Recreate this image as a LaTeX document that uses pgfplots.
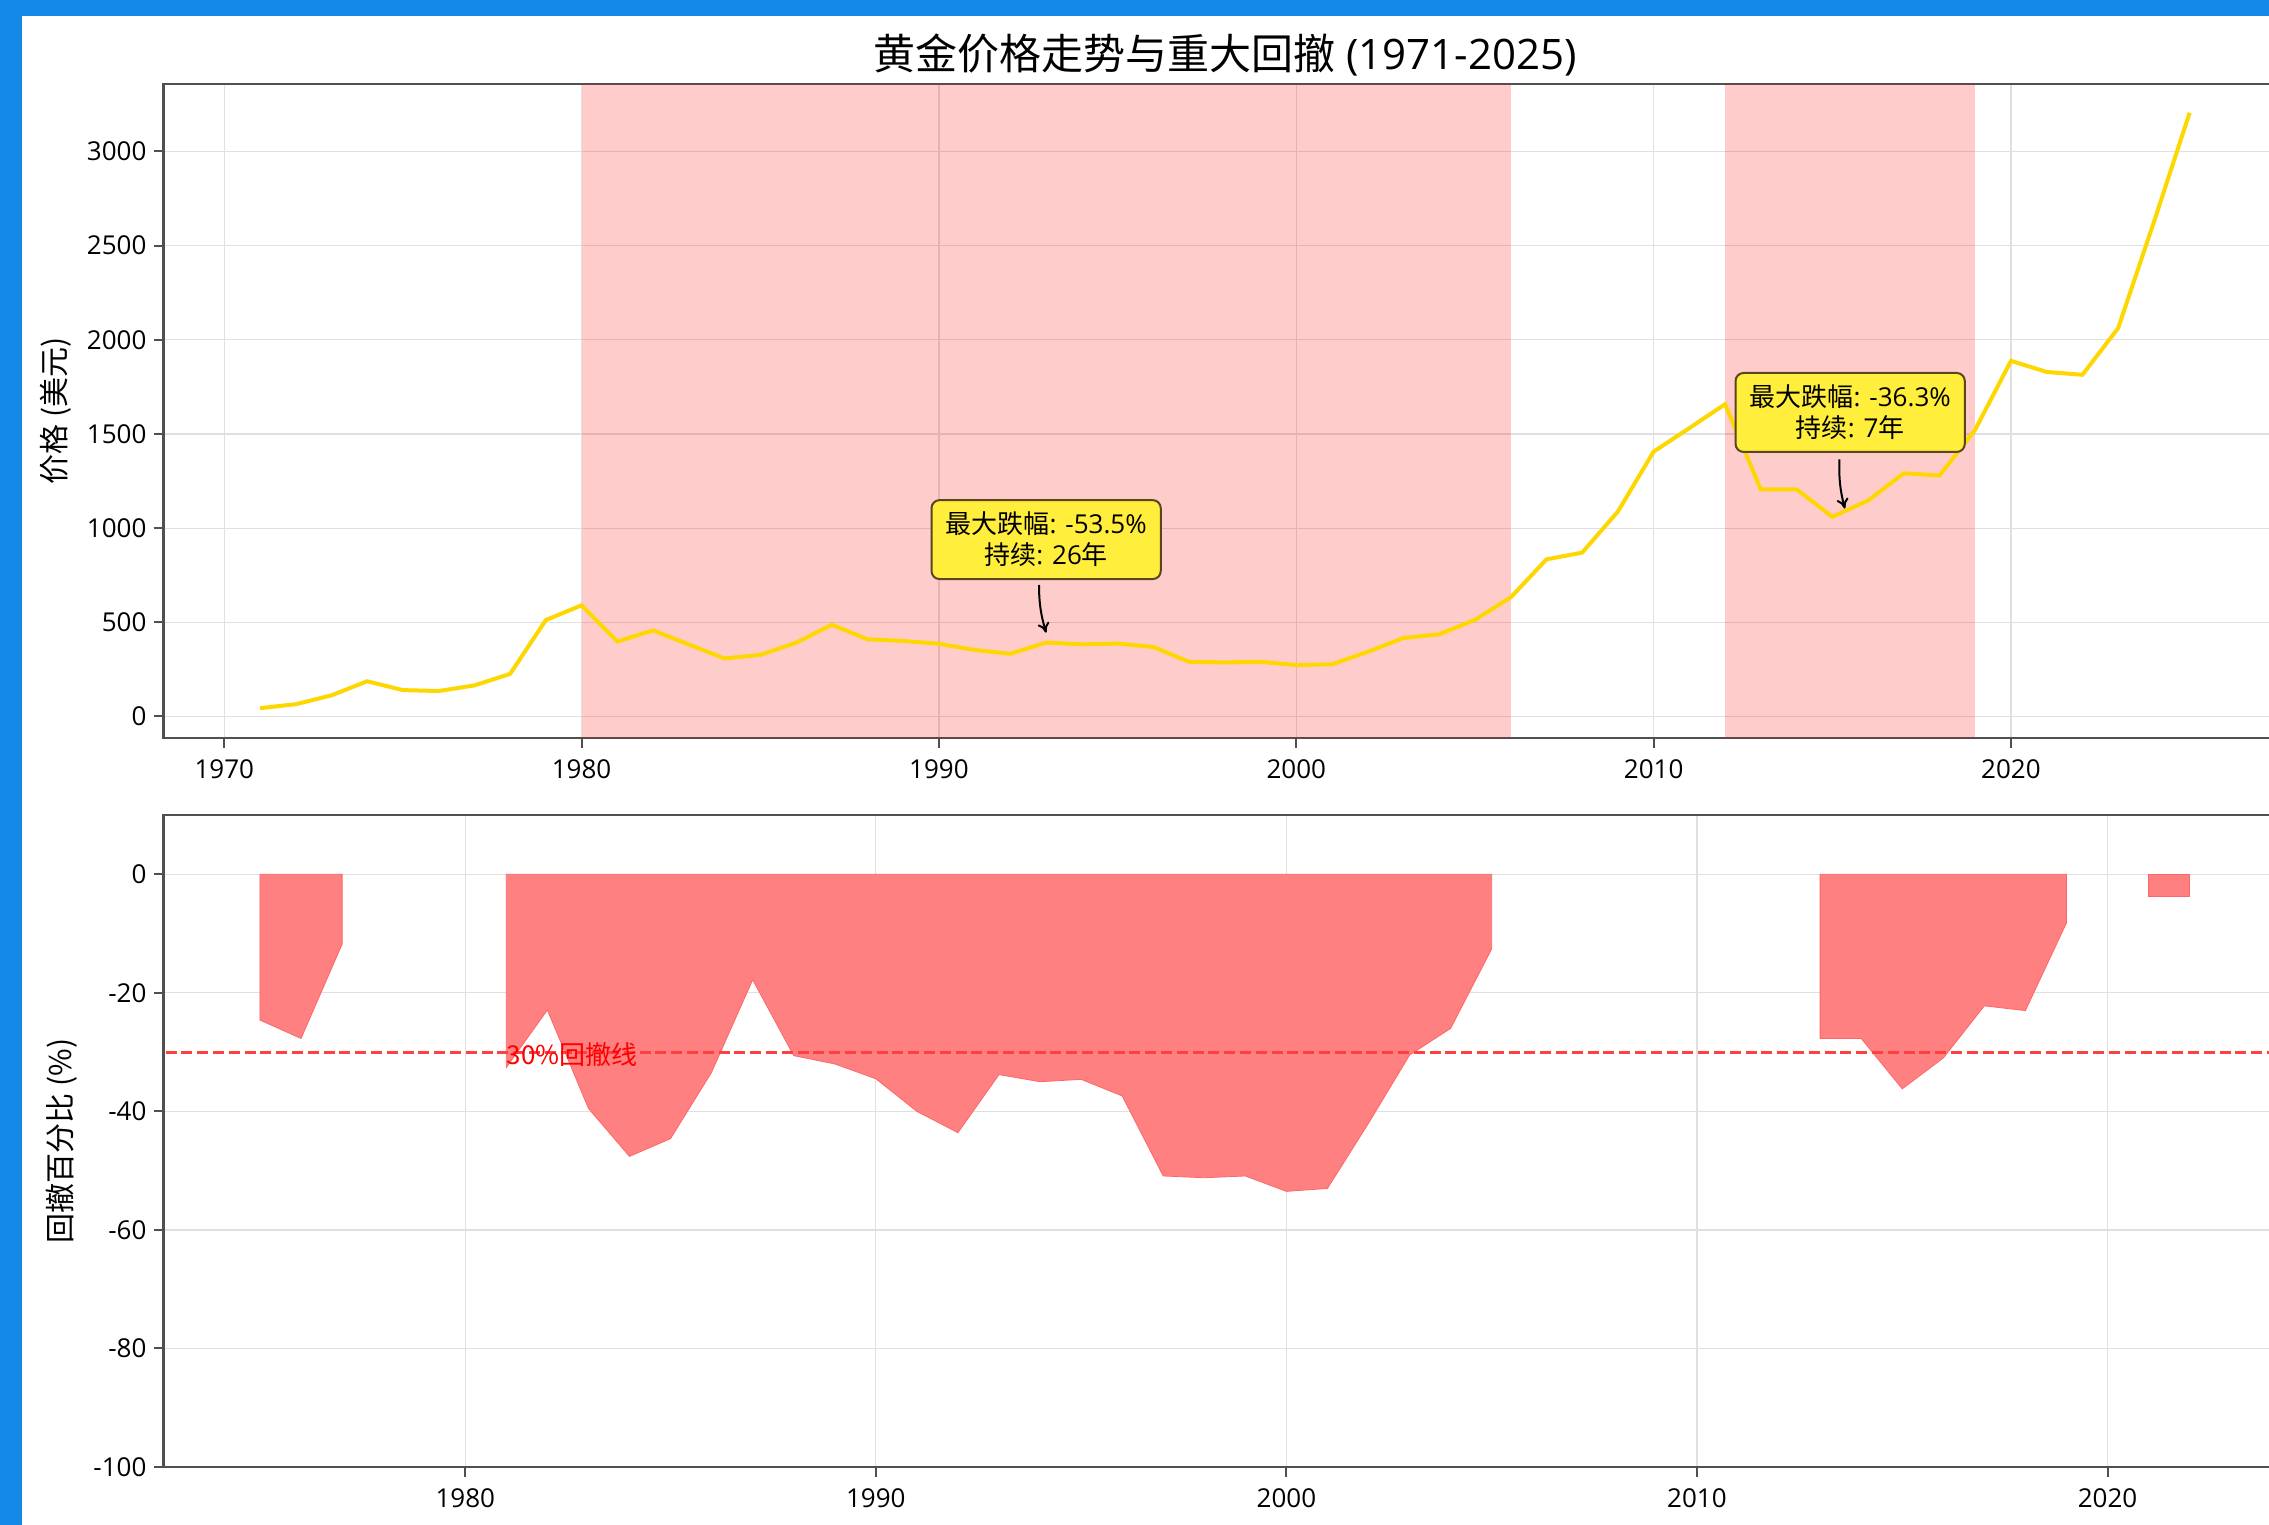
\documentclass[border=0pt]{standalone}
\usepackage{fontspec}
\setmainfont{Open Sans}
\newfontfamily\cjk{Noto Sans CJK SC}
\newcommand\zh[1]{{\cjk #1}}
\usepackage{pgfplots}
\pgfplotsset{compat=1.18}
\usetikzlibrary{arrows.meta}

\definecolor{gold}{RGB}{255,215,0}
\definecolor{frameblue}{RGB}{20,137,232}
\definecolor{ddred}{RGB}{255,128,128}
\definecolor{boxyellow}{RGB}{255,238,60}
\definecolor{boxedge}{RGB}{90,70,30}
\definecolor{spine}{RGB}{80,80,80}

\pgfplotsset{
  chartstyle/.style={
    scale only axis, width=1061.25pt,
    axis line style={spine, line width=1.2pt},
    tick style={spine, line width=1pt},
    tick align=outside, major tick length=5pt,
    xtick pos=left, ytick pos=left,
    grid=major, grid style={black!12, line width=0.6pt},
    tick label style={font=\fontsize{13}{15}\selectfont},
    xticklabel style={yshift=-2.5pt},
    /pgf/number format/assume math mode=true,
    /pgf/number format/1000 sep={},
  },
}
\tikzset{
  notebox/.style={draw=boxedge, fill=boxyellow, rounded corners=4pt, line width=1pt,
    align=center, inner xsep=7pt, inner ysep=6pt, font=\fontsize{13}{15.5}\selectfont},
}

% year-end gold price (USD)
\pgfplotstableread{
year price
1971 44
1972 65
1973 112
1974 187
1975 140
1976 135
1977 165
1978 226
1979 512
1980 590
1981 398
1982 457
1983 382
1984 308
1985 327
1986 391
1987 487
1988 410
1989 401
1990 386
1991 353
1992 333
1993 392
1994 383
1995 387
1996 369
1997 290
1998 287
1999 290
2000 273
2001 277
2002 343
2003 417
2004 436
2005 513
2006 632
2007 834
2008 870
2009 1088
2010 1406
2011 1531
2012 1658
2013 1205
2014 1206
2015 1060
2016 1146
2017 1291
2018 1279
2019 1523
2020 1888
2021 1829
2022 1814
2023 2062
2024 2625
2025 3205
}\goldtable

\begin{document}
\begin{tikzpicture}
\useasboundingbox (0,0) rectangle (1134.5pt,762.5pt);
\clip (0,0) rectangle (1134.5pt,762.5pt);
\fill[frameblue] (0,0) rectangle (1134.5pt,762.5pt);
\fill[white] (11pt,0) rectangle (1134.5pt,754.65pt);

% price panel
\begin{axis}[chartstyle, at={(81.75pt,393.5pt)}, anchor=south west, height=327pt,
  xmin=1968.3, xmax=2027.7, ymin=-114.2, ymax=3357.8,
  xtick={1970,1980,...,2020}, ytick={0,500,...,3000},
  title={\zh{黄金价格走势与重大回撤} (1971-2025)},
  title style={at={(axis description cs:0.5,1.0267)}, anchor=center, font=\fontsize{21}{25}\selectfont},
  ylabel={\zh{价格 (美元)}},
  every axis y label/.style={at={(axis description cs:-0.0509,0.5)}, rotate=90, anchor=center, font=\fontsize{15}{18}\selectfont},
]
\addplot[draw=none, fill=red, fill opacity=0.2] coordinates {(1980,-114.2) (1980,3357.8) (2006,3357.8) (2006,-114.2)};
\addplot[draw=none, fill=red, fill opacity=0.2] coordinates {(2012,-114.2) (2012,3357.8) (2019,3357.8) (2019,-114.2)};
\addplot[gold, line width=2pt] table[x=year, y=price] {\goldtable};

\node[notebox] at (axis cs:1993,939) {\zh{最大跌幅}: -53.5\%\\\zh{持续}: 26\zh{年}};
\draw[-{To[length=5pt,width=6pt]}, line width=1pt] (axis cs:1992.8,698) to[bend right=8] (axis cs:1993,445);
\node[notebox] at (axis cs:2015.5,1614) {\zh{最大跌幅}: -36.3\%\\\zh{持续}: 7\zh{年}};
\draw[-{To[length=5pt,width=6pt]}, line width=1pt] (axis cs:2015.2,1365) to[bend right=8] (axis cs:2015.35,1104);
\end{axis}

% drawdown panel
\begin{axis}[chartstyle, at={(81.75pt,29pt)}, anchor=south west, height=326pt,
  xmin=1972.65, xmax=2024.35, ymin=-100, ymax=10,
  xtick={1980,1990,...,2020}, ytick={-100,-80,...,0},
  ylabel={\zh{回撤百分比 (\%)}},
  every axis y label/.style={at={(axis description cs:-0.0481,0.5)}, rotate=90, anchor=center, font=\fontsize{15}{18}\selectfont},
]
\addplot[fill=ddred, draw=red!60, line width=0.4pt] coordinates {
  (1975,0) (1975,-24.6) (1976,-27.7) (1977,-11.8) (1977,0)} -- cycle;
\addplot[fill=ddred, draw=red!60, line width=0.4pt] coordinates {
  (1981,0) (1981,-32.6) (1982,-22.9) (1983,-39.5) (1984,-47.6) (1985,-44.6)
  (1986,-33.4) (1987,-17.8) (1988,-30.6) (1989,-32) (1990,-34.5) (1991,-40)
  (1992,-43.6) (1993,-33.8) (1994,-35.0) (1995,-34.6) (1996,-37.4) (1997,-50.9)
  (1998,-51.2) (1999,-50.9) (2000,-53.5) (2001,-53.0) (2002,-42) (2003,-30.5)
  (2004,-26.0) (2005,-12.6) (2005,0)} -- cycle;
\addplot[fill=ddred, draw=red!60, line width=0.4pt] coordinates {
  (2013,0) (2013,-27.7) (2014,-27.7) (2015,-36.2) (2016,-31.0) (2017,-22.2)
  (2018,-23.0) (2019,-8.2) (2019,0)} -- cycle;
\addplot[fill=ddred, draw=red!60, line width=0.4pt] coordinates {
  (2021,0) (2021,-3.8) (2022,-3.8) (2022,0)} -- cycle;
\addplot[red!75, line width=1.5pt, dash pattern=on 5.5pt off 2.4pt] coordinates {(1960,-30) (2040,-30)};
\node[anchor=west, inner sep=0pt, text=red, font=\fontsize{13}{15}\selectfont] at (axis cs:1981,-30.5) {\zh{30\%回撤线}};
\end{axis}
\end{tikzpicture}
\end{document}
